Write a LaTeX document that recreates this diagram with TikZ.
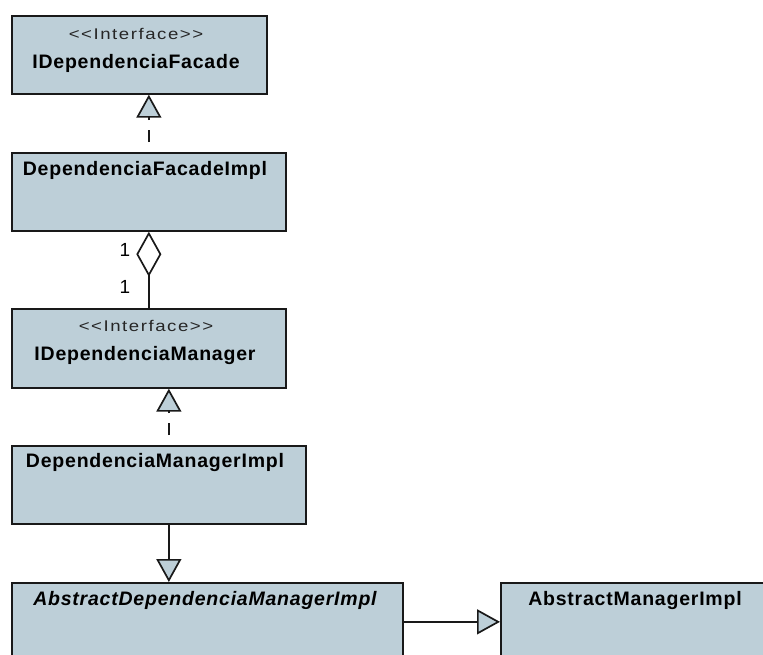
\documentclass[tikz,border=0pt]{standalone}
\usepackage{fontspec}
\setmainfont{Liberation Sans}
\newfontfamily\stereofont{Liberation Sans}[LetterSpace=10, FakeStretch=1.2]
\newfontfamily\namefont{Liberation Sans}[LetterSpace=4]
\usetikzlibrary{arrows.meta}
\definecolor{boxfill}{RGB}{189,207,216}
\definecolor{linecol}{RGB}{25,25,25}
\begin{document}
\begin{tikzpicture}[x=1pt,y=-1pt,
  classbox/.style={draw=linecol, fill=boxfill, line width=1.7pt, rectangle, inner sep=0pt, anchor=north west, minimum height=78pt},
  stereo/.style={anchor=base, inner sep=0pt, font=\stereofont\fontsize{15.5}{18}\selectfont, text=black!85},
  cname/.style={anchor=base, inner sep=0pt, font=\namefont\bfseries\fontsize{19.5}{22}\selectfont},
  aname/.style={anchor=base, inner sep=0pt, font=\namefont\bfseries\itshape\fontsize{19.5}{22}\selectfont},
  mult/.style={anchor=center, inner sep=0pt, font=\fontsize{19}{22}\selectfont},
  realize/.style={draw=linecol, line width=1.7pt, dash pattern=on 12pt off 10pt, dash phase=12pt,
    -{Triangle[width=25pt,length=23pt,fill=boxfill]}},
  general/.style={draw=linecol, line width=1.7pt, -{Triangle[width=25pt,length=23pt,fill=boxfill]}},
  aggr/.style={draw=linecol, line width=1.7pt, -{Diamond[width=25pt,length=45pt,fill=white]}}
]
\useasboundingbox (0,0) rectangle (763,654);
\clip (0,0) rectangle (763,654);
\fill[white] (0,0) rectangle (763,654);

% boxes
\node[classbox, minimum width=255pt] (b1) at (11,15) {};
\node[classbox, minimum width=274pt] (b2) at (11,152) {};
\node[classbox, minimum width=274pt, minimum height=79pt] (b3) at (11,308) {};
\node[classbox, minimum width=294pt] (b4) at (11,445) {};
\node[classbox, minimum width=391pt] (b5) at (11,582) {};
\node[classbox, minimum width=270pt] (b6) at (500,582) {};

% texts
\node[stereo] (s1) at (136,39) {<<Interface>>};
\node[cname] (n1) at (136,68) {IDependenciaFacade};
\node[cname] (n2) at (145,175) {DependenciaFacadeImpl};
\node[stereo] (s3) at (146,331) {<<Interface>>};
\node[cname] (n3) at (145,360) {IDependenciaManager};
\node[cname] (n4) at (155,467) {DependenciaManagerImpl};
\node[aname] (n5) at (205,605) {AbstractDependenciaManagerImpl};
\node[cname] (n6) at (635,605) {AbstractManagerImpl};

% connectors
\draw[realize] (b2.north) -- ([xshift=9.5pt]b1.south);
\draw[aggr] (b3.north) -- (b2.south);
\node[mult] (m1) at (125,250) {1};
\node[mult] (m2) at (125,287) {1};
\draw[realize] ([xshift=10pt]b4.north) -- ([xshift=20pt]b3.south);
\draw[general] ([xshift=10pt]b4.south) -- ([xshift=-38.5pt]b5.north);
\draw[general] (b5.east) -- (b6.west);
\end{tikzpicture}
\end{document}
